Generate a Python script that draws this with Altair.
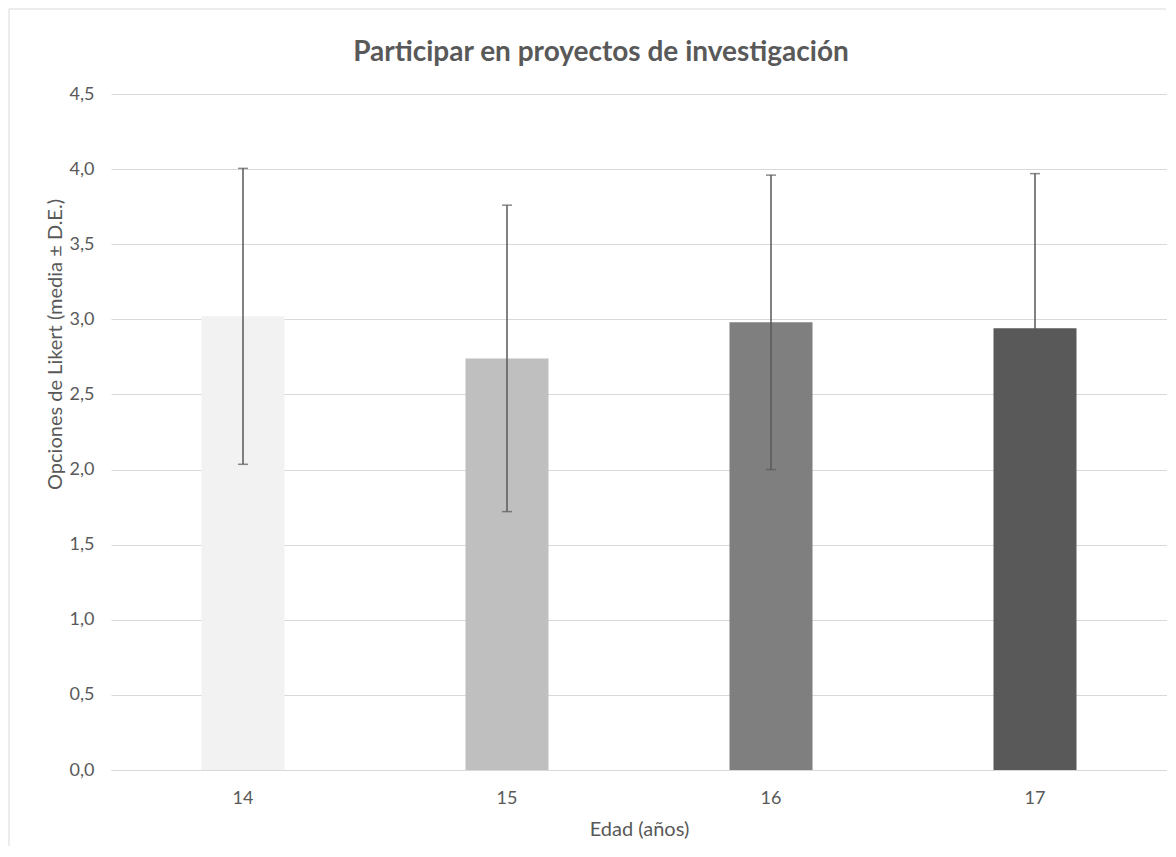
import altair as alt
import pandas as pd

# ---- data ----
ages = ["14", "15", "16", "17"]
means = [3.02, 2.74, 2.98, 2.94]
sds = [0.985, 1.02, 0.98, 1.03]
bar_colors = ["#f2f2f2", "#bfbfbf", "#7f7f7f", "#595959"]
y_ticks = [0, 0.5, 1.0, 1.5, 2.0, 2.5, 3.0, 3.5, 4.0, 4.5]
chart_title = ["Participar  en proyectos de investigación"]

df = pd.DataFrame({"edad": ages, "media": means, "de": sds})
df["lo"] = df["media"] - df["de"]
df["hi"] = df["media"] + df["de"]

W, H = 1056, 676
FONT = "Lato"
TXT = "#595959"
GRID = "#d9d9d9"

x_enc = alt.X(
    "edad:N",
    sort=ages,
    scale=alt.Scale(paddingInner=0, paddingOuter=0),
    axis=alt.Axis(
        title="Edad (años)",
        labelAngle=0,
        ticks=False,
        domainColor=GRID,
        domainWidth=1,
        labelPadding=19,
        titlePadding=12,
        grid=False,
    ),
)
y_axis = alt.Axis(
    title="Opciones de Likert (media ± D.E.)",
    values=y_ticks,
    labelExpr="replace(format(datum.value, '.1f'), '.', ',')",
    ticks=False,
    domain=False,
    labelPadding=17,
    gridColor=GRID,
    gridWidth=1,
    titleX=-46,
    titleY=250,
)
y_scale = alt.Scale(domain=[0, 4.5], nice=False)

base = alt.Chart(df)

bars = base.mark_bar(size=83).encode(
    x=x_enc,
    y=alt.Y("media:Q", scale=y_scale, axis=y_axis),
    color=alt.Color("edad:N", scale=alt.Scale(domain=ages, range=bar_colors), legend=None),
)

whisker = base.mark_rule(color="#595959", strokeWidth=1.5).encode(
    x=alt.X("edad:N", sort=ages),
    y=alt.Y("lo:Q"),
    y2="hi:Q",
)
cap_hi = base.mark_tick(color="#595959", size=10, thickness=1.5).encode(
    x=alt.X("edad:N", sort=ages), y=alt.Y("hi:Q")
)
cap_lo = base.mark_tick(color="#595959", size=10, thickness=1.5).encode(
    x=alt.X("edad:N", sort=ages), y=alt.Y("lo:Q")
)

title_df = pd.DataFrame({"t": chart_title})
title_mark = alt.Chart(title_df).mark_text(
    font=FONT, fontSize=28, fontWeight="bold", color=TXT, align="center", baseline="middle"
).encode(text="t:N", x=alt.value(490), y=alt.value(-41))

frame_df = pd.DataFrame({"k": [0]})
frame_left = alt.Chart(frame_df).mark_rule(color=GRID, strokeWidth=1).encode(
    x=alt.value(-102), x2=alt.value(-102), y=alt.value(-85), y2=alt.value(752)
)
frame_top = alt.Chart(frame_df).mark_rule(color=GRID, strokeWidth=1).encode(
    x=alt.value(-102), x2=alt.value(1055), y=alt.value(-85), y2=alt.value(-85)
)

chart = (
    alt.layer(bars, whisker, cap_hi, cap_lo, title_mark, frame_left, frame_top)
    .properties(
        width=W,
        height=H,
        padding={"left": 0, "top": 0, "right": 0, "bottom": 0},
    )
    .configure_view(stroke=None)
    .configure_axis(
        labelFont=FONT,
        titleFont=FONT,
        labelFontSize=18,
        titleFontSize=20,
        labelColor=TXT,
        titleColor=TXT,
        titleFontWeight="normal",
    )
)

chart.save("out.html", embed_options={"renderer": "svg", "actions": False})
